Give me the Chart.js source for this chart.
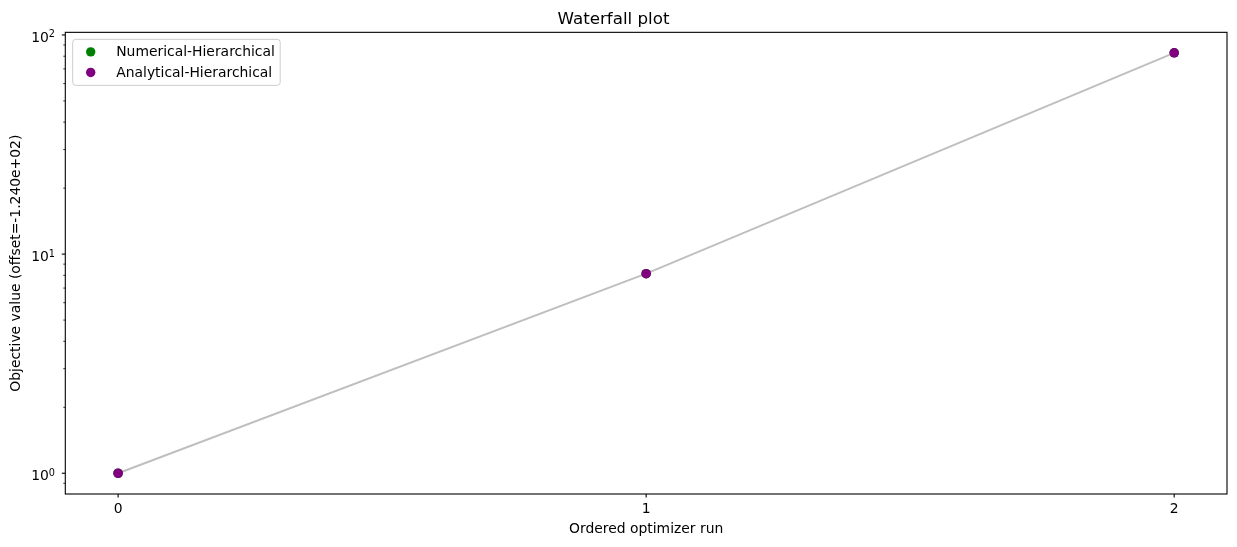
<!DOCTYPE html>
<html>
<head>
<meta charset="utf-8">
<script src="https://cdn.jsdelivr.net/npm/chart.js@4"></script>
<style>
  html, body { margin: 0; padding: 0; background: #fff; }
  #wrap { width: 1237px; height: 547px; }
</style>
</head>
<body>
<div id="wrap"><canvas id="c" width="1237" height="547"></canvas></div>
<script>
// ---- data ----
const runs = [0, 1, 2];
const numericalValues = [1.0, 8.14, 82.9];
const analyticalValues = [1.0, 8.14, 82.9];
const seriesNames = ['Numerical-Hierarchical', 'Analytical-Hierarchical'];
const xTickValues = [0, 1, 2];
const yTickValues = [0.9, 1, 2, 3, 4, 5, 6, 7, 8, 9, 10, 20, 30, 40, 50, 60, 70, 80, 90, 100];
const yMajorBase = '10';
const yMajorExponents = { 1: '0', 10: '1', 100: '2' };
const titleText = 'Waterfall plot';
const xTitle = 'Ordered optimizer run';
const yTitle = 'Objective value (offset=-1.240e+02)';

const FONT = 'DejaVu Sans';
const toPts = (xs, ys) => xs.map((x, i) => ({ x: x, y: ys[i] }));

const decorPlugin = {
  id: 'decor',
  afterDraw(chart) {
    const { ctx, chartArea: a, scales } = chart;
    const ys = scales.y, xs = scales.x;
    ctx.save();
    // frame
    ctx.strokeStyle = '#000';
    ctx.lineWidth = 1.1;
    ctx.strokeRect(a.left, a.top, a.right - a.left, a.bottom - a.top);
    // y ticks + major labels (10^n with superscript)
    yTickValues.forEach(v => {
      const py = ys.getPixelForValue(v);
      if (py < a.top - 0.5 || py > a.bottom + 0.5) return;
      const major = yMajorExponents[v] !== undefined;
      ctx.strokeStyle = '#000';
      ctx.lineWidth = major ? 1.1 : 0.8;
      const len = major ? 3.5 : 2;
      ctx.beginPath();
      ctx.moveTo(a.left - len, py);
      ctx.lineTo(a.left, py);
      ctx.stroke();
      if (major) {
        const exp = yMajorExponents[v];
        ctx.fillStyle = '#000';
        ctx.textBaseline = 'alphabetic';
        ctx.font = '9.7px "' + FONT + '"';
        const supW = ctx.measureText(exp).width;
        const supX = a.left - 10.5 - supW;
        ctx.textAlign = 'left';
        ctx.fillText(exp, supX, py + 2.5);
        ctx.font = '13.9px "' + FONT + '"';
        ctx.textAlign = 'right';
        ctx.fillText(yMajorBase, supX + 0.3, py + 7);
      }
    });
    // x ticks
    xTickValues.forEach(v => {
      const px = xs.getPixelForValue(v);
      ctx.lineWidth = 1.1;
      ctx.beginPath();
      ctx.moveTo(px, a.bottom);
      ctx.lineTo(px, a.bottom + 3.5);
      ctx.stroke();
    });
    // legend
    const lx = a.left + 7.4, ly = a.top + 7, lw = 207.5, lh = 46, r = 3;
    ctx.fillStyle = 'rgba(255,255,255,0.8)';
    ctx.strokeStyle = '#cccccc';
    ctx.lineWidth = 1;
    ctx.beginPath();
    ctx.roundRect(lx, ly, lw, lh, r);
    ctx.fill();
    ctx.stroke();
    ctx.font = '13.9px "' + FONT + '"';
    ctx.textBaseline = 'middle';
    ctx.textAlign = 'left';
    const legendDs = chart.data.datasets.filter(d => d.inLegend);
    legendDs.forEach((d, i) => {
      const cy = ly + 12.5 + i * 20.6;
      ctx.fillStyle = d.pointBackgroundColor;
      ctx.beginPath();
      ctx.arc(lx + 18, cy, 4.7, 0, Math.PI * 2);
      ctx.fill();
      ctx.fillStyle = '#000';
      ctx.fillText(d.label, lx + 43.5, cy + 0.5);
    });
    ctx.restore();
  }
};

new Chart(document.getElementById('c'), {
  type: 'scatter',
  data: {
    datasets: [
      {
        label: 'line',
        data: toPts(runs, numericalValues),
        showLine: true,
        borderColor: '#bfbfbf',
        borderWidth: 2,
        pointRadius: 0,
        order: 3,
        inLegend: false
      },
      {
        label: seriesNames[0],
        data: toPts(runs, numericalValues),
        showLine: false,
        pointRadius: 4.8,
        pointBorderWidth: 0,
        pointBackgroundColor: '#008000',
        pointBorderColor: '#008000',
        order: 2,
        inLegend: true
      },
      {
        label: seriesNames[1],
        data: toPts(runs, analyticalValues),
        showLine: false,
        pointRadius: 4.8,
        pointBorderWidth: 0,
        pointBackgroundColor: '#800080',
        pointBorderColor: '#800080',
        order: 1,
        inLegend: true
      }
    ]
  },
  options: {
    responsive: false,
    animation: false,
    devicePixelRatio: 1,
    layout: { padding: { left: 0, right: 10, top: 0, bottom: 0 } },
    plugins: {
      legend: { display: false },
      tooltip: { enabled: false },
      title: {
        display: true,
        text: titleText,
        color: '#000',
        font: { family: FONT, size: 16.7, weight: 'normal' },
        padding: { top: 9.5, bottom: 2.8 }
      }
    },
    scales: {
      x: {
        type: 'linear',
        min: -0.1,
        max: 2.1,
        afterBuildTicks: s => { s.ticks = xTickValues.map(v => ({ value: v })); },
        afterFit: s => { s.height = 53; },
        grid: { display: false, drawTicks: false },
        border: { display: false },
        ticks: {
          autoSkip: false,
          maxRotation: 0,
          padding: 7,
          color: '#000',
          font: { family: FONT, size: 13.9 },
          callback: v => String(v)
        },
        title: {
          display: true,
          text: xTitle,
          color: '#000',
          font: { family: FONT, size: 13.9 },
          padding: { top: 0, bottom: 9.5 }
        }
      },
      y: {
        type: 'logarithmic',
        min: 0.804,
        max: 102.8,
        afterBuildTicks: s => { s.ticks = yTickValues.map(v => ({ value: v })); },
        afterFit: s => { s.width = 65.3; },
        grid: { display: false, drawTicks: false },
        border: { display: false },
        ticks: {
          display: false,
          autoSkip: false
        },
        title: {
          display: true,
          text: yTitle,
          color: '#000',
          font: { family: FONT, size: 13.9 },
          padding: { top: 8, bottom: 0 }
        }
      }
    }
  },
  plugins: [decorPlugin]
});
</script>
</body>
</html>
